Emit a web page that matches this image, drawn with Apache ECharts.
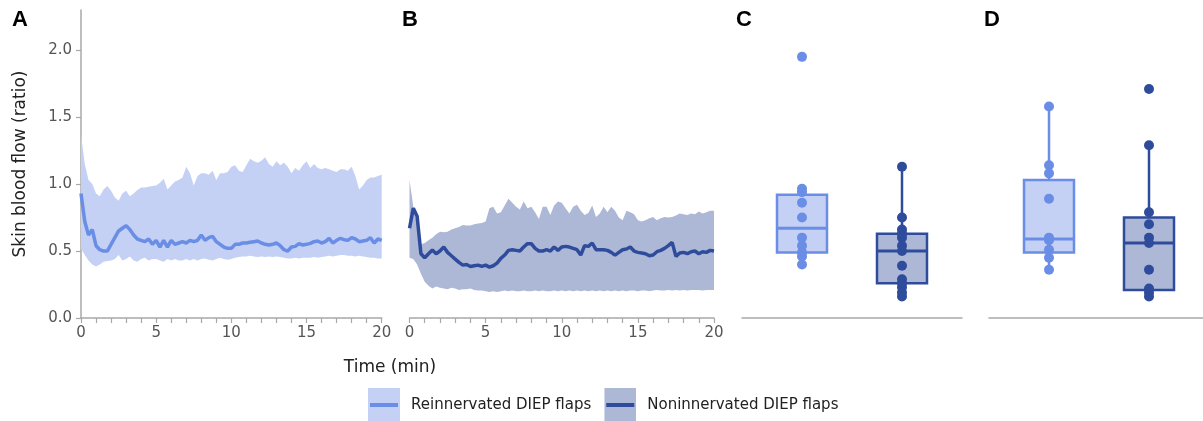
<!DOCTYPE html>
<html>
<head>
<meta charset="utf-8">
<script src="https://cdn.jsdelivr.net/npm/echarts@6/dist/echarts.min.js"></script>
<style>html,body{margin:0;padding:0;background:#fff}#c{width:1203px;height:421px}</style>
</head>
<body>
<div id="c"></div>
<script>
// ---- data ----
const timeMin = [0,0.25,0.5,0.75,1,1.25,1.5,1.75,2,2.25,2.5,2.75,3,3.25,3.5,3.75,4,4.25,4.5,4.75,5,5.25,5.5,5.75,6,6.25,6.5,6.75,7,7.25,7.5,7.75,8,8.25,8.5,8.75,9,9.25,9.5,9.75,10,10.25,10.5,10.75,11,11.25,11.5,11.75,12,12.25,12.5,12.75,13,13.25,13.5,13.75,14,14.25,14.5,14.75,15,15.25,15.5,15.75,16,16.25,16.5,16.75,17,17.25,17.5,17.75,18,18.25,18.5,18.75,19,19.25,19.5,19.75,20];

const meanA = [0.93,0.72,0.62,0.66,0.54, 0.51,0.50,0.50,0.55,0.60, 0.65,0.67,0.69,0.66,0.62, 0.59,0.58,0.57,0.59,0.55, 0.58,0.53,0.58,0.53,0.58, 0.55,0.56,0.57,0.56,0.58, 0.57,0.58,0.62,0.58,0.60, 0.61,0.57,0.55,0.53,0.52, 0.52,0.55,0.55,0.56,0.56, 0.565,0.57,0.575,0.56,0.55, 0.545,0.55,0.56,0.54,0.51, 0.50,0.53,0.535,0.555,0.545, 0.55,0.557,0.57,0.575,0.56, 0.57,0.595,0.56,0.58,0.595, 0.585,0.58,0.60,0.59,0.57, 0.575,0.58,0.60,0.56,0.59, 0.58];
const upperA = [1.37,1.15,1.03,1.0,0.93, 0.91,0.96,0.985,0.95,0.90, 0.875,0.93,0.95,0.91,0.93, 0.955,0.975,0.975,0.98,0.985, 0.99,1.01,1.04,0.96,0.99, 1.02,1.03,1.05,1.13,1.08, 0.99,1.06,1.08,1.08,1.07, 1.10,1.03,1.08,1.08,1.09, 1.13,1.14,1.10,1.09,1.14, 1.19,1.17,1.16,1.175,1.20, 1.15,1.13,1.17,1.14,1.16, 1.13,1.08,1.12,1.10,1.14, 1.17,1.12,1.15,1.12,1.11, 1.12,1.11,1.10,1.09,1.11, 1.11,1.10,1.13,1.06,0.96, 0.99,1.03,1.05,1.05,1.06, 1.07];
const lowerA = [0.52,0.47,0.43,0.40,0.385, 0.40,0.42,0.425,0.43,0.44, 0.47,0.43,0.44,0.46,0.43, 0.42,0.44,0.45,0.43,0.44, 0.44,0.43,0.42,0.44,0.43, 0.44,0.43,0.43,0.44,0.43, 0.44,0.43,0.44,0.445,0.435, 0.43,0.44,0.45,0.44,0.435, 0.44,0.45,0.455,0.46,0.46, 0.465,0.46,0.455,0.46,0.455, 0.46,0.455,0.46,0.455,0.45, 0.445,0.445,0.45,0.445,0.45, 0.45,0.45,0.455,0.45,0.455, 0.46,0.465,0.46,0.465,0.47, 0.47,0.465,0.465,0.46,0.465, 0.46,0.455,0.45,0.45,0.445, 0.445];

const meanB = [0.67,0.82,0.76,0.48,0.45, 0.48,0.507,0.48,0.50,0.53, 0.49,0.465,0.44,0.415,0.395, 0.40,0.385,0.39,0.395,0.385, 0.395,0.38,0.39,0.41,0.445, 0.47,0.505,0.51,0.505,0.50, 0.53,0.555,0.555,0.52,0.50, 0.50,0.51,0.50,0.53,0.505, 0.53,0.535,0.53,0.52,0.51, 0.47,0.54,0.535,0.56,0.51, 0.51,0.51,0.505,0.49,0.47, 0.49,0.51,0.515,0.53,0.50, 0.49,0.485,0.48,0.465,0.47, 0.495,0.505,0.52,0.54,0.565, 0.46,0.485,0.49,0.48,0.495, 0.50,0.48,0.495,0.49,0.505, 0.50];
const upperB = [1.03,0.83,0.71,0.55,0.56, 0.58,0.60,0.625,0.645,0.64, 0.645,0.66,0.67,0.68,0.695, 0.69,0.69,0.70,0.705,0.71, 0.72,0.82,0.83,0.78,0.79, 0.84,0.89,0.86,0.83,0.81, 0.87,0.82,0.83,0.79,0.74, 0.83,0.83,0.77,0.84,0.87, 0.86,0.82,0.78,0.83,0.845, 0.80,0.77,0.785,0.84,0.755, 0.78,0.83,0.79,0.83,0.80, 0.75,0.73,0.80,0.79,0.775, 0.73,0.72,0.73,0.745,0.755, 0.73,0.745,0.755,0.75,0.755, 0.765,0.78,0.775,0.77,0.78, 0.775,0.795,0.78,0.79,0.80, 0.80];
const lowerB = [0.45,0.44,0.40,0.33,0.27, 0.24,0.22,0.235,0.225,0.22, 0.215,0.225,0.22,0.21,0.215, 0.215,0.22,0.21,0.205,0.205, 0.20,0.195,0.20,0.195,0.20, 0.205,0.20,0.205,0.20,0.20, 0.205,0.20,0.20,0.205,0.20, 0.205,0.20,0.20,0.205,0.20, 0.205,0.20,0.205,0.20,0.205, 0.20,0.205,0.20,0.205,0.20, 0.205,0.20,0.205,0.20,0.205, 0.20,0.205,0.20,0.205,0.205, 0.20,0.205,0.205,0.20,0.205, 0.21,0.205,0.205,0.21,0.205, 0.21,0.205,0.21,0.205,0.21, 0.21,0.21,0.205,0.21,0.21, 0.21];

// box statistics: [low whisker, Q1, median, Q3, high whisker]
const boxCRein = [0.40, 0.49, 0.67, 0.92, 0.965];
const boxCNon  = [0.16, 0.26, 0.50, 0.63, 1.13];
const boxDRein = [0.36, 0.49, 0.59, 1.03, 1.58];
const boxDNon  = [0.15, 0.21, 0.56, 0.75, 1.29];
// individual flap values
const ptsCRein = [1.95, 0.965, 0.94, 0.86, 0.75, 0.60, 0.54, 0.49, 0.46, 0.40];
const ptsCNon  = [1.13, 0.75, 0.66, 0.63, 0.60, 0.54, 0.50, 0.39, 0.29, 0.26, 0.23, 0.19, 0.16];
const ptsDRein = [1.58, 1.14, 1.08, 0.89, 0.60, 0.58, 0.51, 0.45, 0.36];
const ptsDNon  = [1.71, 1.29, 0.79, 0.70, 0.60, 0.56, 0.36, 0.22, 0.19, 0.16];

const yTicks = [0, 0.5, 1.0, 1.5, 2.0];
const xTicks = [0, 5, 10, 15, 20];
const groupNames = ['Reinnervated DIEP flaps', 'Noninnervated DIEP flaps'];

// ---- styles ----
const LIGHT_LINE = '#6a8de6', LIGHT_FILL = '#c4d1f5';
const DARK_LINE = '#2f4c9c', DARK_FILL = '#adb8d7';
const AX = '#a8a8a8';
const FONT = 'DejaVu Sans';

const pairs = (ts, vs) => vs.map((v, i) => [ts[i], v]);

function timeX(idx) {
  return {
    type: 'value', gridIndex: idx, min: 0, max: 20, interval: 5,
    axisLine: { lineStyle: { color: AX, width: 1.5 } },
    axisTick: { length: 5, lineStyle: { color: AX, width: 1.2 } },
    minorTick: { show: true, splitNumber: 5, length: 5, lineStyle: { color: AX, width: 1.2 } },
    axisLabel: { color: '#555', fontSize: 15, fontFamily: FONT, margin: 8, customValues: xTicks },
    splitLine: { show: false }
  };
}
function boxX(idx, max) {
  return {
    type: 'value', gridIndex: idx, min: -0.6, max: max,
    axisLine: { lineStyle: { color: AX, width: 1.5 } },
    axisTick: { show: false }, axisLabel: { show: false }, splitLine: { show: false }
  };
}
function valY(idx, visible) {
  const y = {
    type: 'value', gridIndex: idx, min: 0, max: 2.3, interval: 0.5,
    splitLine: { show: false },
    axisLine: { show: visible, lineStyle: { color: AX, width: 1.5 } },
    axisTick: { show: visible, length: 5, customValues: yTicks, lineStyle: { color: AX, width: 1.2 } },
    axisLabel: { show: visible, customValues: yTicks, formatter: v => v.toFixed(1), color: '#555', fontSize: 15, fontFamily: FONT, margin: 9 }
  };
  if (visible) {
    y.name = 'Skin blood flow (ratio)';
    y.nameLocation = 'middle';
    y.nameGap = 52;
    y.nameTextStyle = { color: '#222', fontSize: 17, fontFamily: FONT };
  }
  return y;
}

// band between lower and upper as one polygon, positioned through the axes
function bandSeries(idx, lo, up, fill, key) {
  return {
    name: '_band' + key, type: 'custom', xAxisIndex: idx, yAxisIndex: idx, silent: true, z: 1,
    data: timeMin.map((t, i) => [t, lo[i], up[i]]),
    encode: { x: 0, y: [1, 2] },
    renderItem: function (params, api) {
      if (params.dataIndexInside !== 0) return null;
      const n = params.dataInsideLength;
      const top = [], bot = [];
      for (let i = 0; i < n; i++) {
        const t = api.value(0, i);
        top.push(api.coord([t, api.value(2, i)]));
        bot.push(api.coord([t, api.value(1, i)]));
      }
      return { type: 'polygon', shape: { points: top.concat(bot.reverse()) }, style: { fill: fill } };
    }
  };
}
function meanSeries(idx, vals, color, name) {
  return { name: name, type: 'line', xAxisIndex: idx, yAxisIndex: idx, data: pairs(timeMin, vals),
    showSymbol: false, lineStyle: { color: color, width: 3.5 }, itemStyle: { color: color }, z: 5 };
}
function boxSeries(idx, xPos, stats, fill, stroke, key) {
  return {
    name: '_box' + key, type: 'custom', xAxisIndex: idx, yAxisIndex: idx,
    data: [[xPos].concat(stats)], z: 3,
    renderItem: function (params, api) {
      const x = api.value(0);
      const pLo = api.coord([x, api.value(1)]), pQ1 = api.coord([x, api.value(2)]);
      const pMd = api.coord([x, api.value(3)]), pQ3 = api.coord([x, api.value(4)]);
      const pHi = api.coord([x, api.value(5)]);
      const hw = api.size([0.25, 0])[0];
      return { type: 'group', children: [
        { type: 'line', shape: { x1: pLo[0], y1: pLo[1], x2: pQ1[0], y2: pQ1[1] }, style: { stroke: stroke, lineWidth: 2.5 } },
        { type: 'line', shape: { x1: pQ3[0], y1: pQ3[1], x2: pHi[0], y2: pHi[1] }, style: { stroke: stroke, lineWidth: 2.5 } },
        { type: 'rect', shape: { x: pQ3[0] - hw, y: pQ3[1], width: 2 * hw, height: pQ1[1] - pQ3[1] }, style: { fill: fill, stroke: stroke, lineWidth: 2.5 } },
        { type: 'line', shape: { x1: pMd[0] - hw, y1: pMd[1], x2: pMd[0] + hw, y2: pMd[1] }, style: { stroke: stroke, lineWidth: 3 } }
      ] };
    }
  };
}
function dotSeries(idx, xPos, vals, color, key) {
  return { name: '_dots' + key, type: 'scatter', xAxisIndex: idx, yAxisIndex: idx, z: 6,
    data: vals.map(v => [xPos, v]), symbolSize: 10, itemStyle: { color: color, opacity: 1 } };
}

function legendIcon(fill, line) {
  const svg = "<svg xmlns='http://www.w3.org/2000/svg' width='32' height='34'><rect width='32' height='34' fill='" + fill +
    "'/><rect x='2' y='15' width='28' height='4' fill='" + line + "'/></svg>";
  return 'image://data:image/svg+xml;charset=utf-8,' + encodeURIComponent(svg);
}

const chart = echarts.init(document.getElementById('c'), null, { renderer: 'canvas' });
const option = {
  animation: false,
  backgroundColor: '#fff',
  grid: [
    { left: 81, top: 10, width: 300.7, height: 308 },
    { left: 409.5, top: 10, width: 304.5, height: 308 },
    { left: 742, top: 10, width: 220, height: 308 },
    { left: 989, top: 10, width: 214, height: 308 }
  ],
  xAxis: [timeX(0), timeX(1), boxX(2, 1.6), boxX(3, 1.54)],
  yAxis: [valY(0, true), valY(1, false), valY(2, false), valY(3, false)],
  legend: {
    left: 368, top: 388, itemWidth: 32, itemHeight: 34, itemGap: 13, padding: 0,
    selectedMode: false,
    textStyle: { color: '#222', fontSize: 15, fontFamily: FONT, padding: [0, 0, 0, 6] },
    data: [
      { name: groupNames[0], icon: legendIcon(LIGHT_FILL, LIGHT_LINE) },
      { name: groupNames[1], icon: legendIcon(DARK_FILL, DARK_LINE) }
    ]
  },
  graphic: [
    { type: 'text', left: 12, top: 9, style: { text: 'A', fontSize: 22, fontWeight: 'bold', fontFamily: 'Liberation Sans', fill: '#000' } },
    { type: 'text', left: 402, top: 9, style: { text: 'B', fontSize: 22, fontWeight: 'bold', fontFamily: 'Liberation Sans', fill: '#000' } },
    { type: 'text', left: 736, top: 9, style: { text: 'C', fontSize: 22, fontWeight: 'bold', fontFamily: 'Liberation Sans', fill: '#000' } },
    { type: 'text', left: 984, top: 9, style: { text: 'D', fontSize: 22, fontWeight: 'bold', fontFamily: 'Liberation Sans', fill: '#000' } },
    { type: 'text', x: 390, y: 368, style: { text: 'Time (min)', fontSize: 17, fontFamily: FONT, fill: '#222', align: 'center', verticalAlign: 'middle' } }
  ],
  series: [].concat(
    [bandSeries(0, lowerA, upperA, LIGHT_FILL, 'A')],
    [meanSeries(0, meanA, LIGHT_LINE, groupNames[0])],
    [bandSeries(1, lowerB, upperB, DARK_FILL, 'B')],
    [meanSeries(1, meanB, DARK_LINE, groupNames[1])],
    [boxSeries(2, 0, boxCRein, LIGHT_FILL, LIGHT_LINE, 'CR'), boxSeries(2, 1, boxCNon, DARK_FILL, DARK_LINE, 'CN'),
     boxSeries(3, 0, boxDRein, LIGHT_FILL, LIGHT_LINE, 'DR'), boxSeries(3, 1, boxDNon, DARK_FILL, DARK_LINE, 'DN')],
    [dotSeries(2, 0, ptsCRein, LIGHT_LINE, 'CR'), dotSeries(2, 1, ptsCNon, DARK_LINE, 'CN'),
     dotSeries(3, 0, ptsDRein, LIGHT_LINE, 'DR'), dotSeries(3, 1, ptsDNon, DARK_LINE, 'DN')]
  )
};
chart.setOption(option);
</script>
</body>
</html>
